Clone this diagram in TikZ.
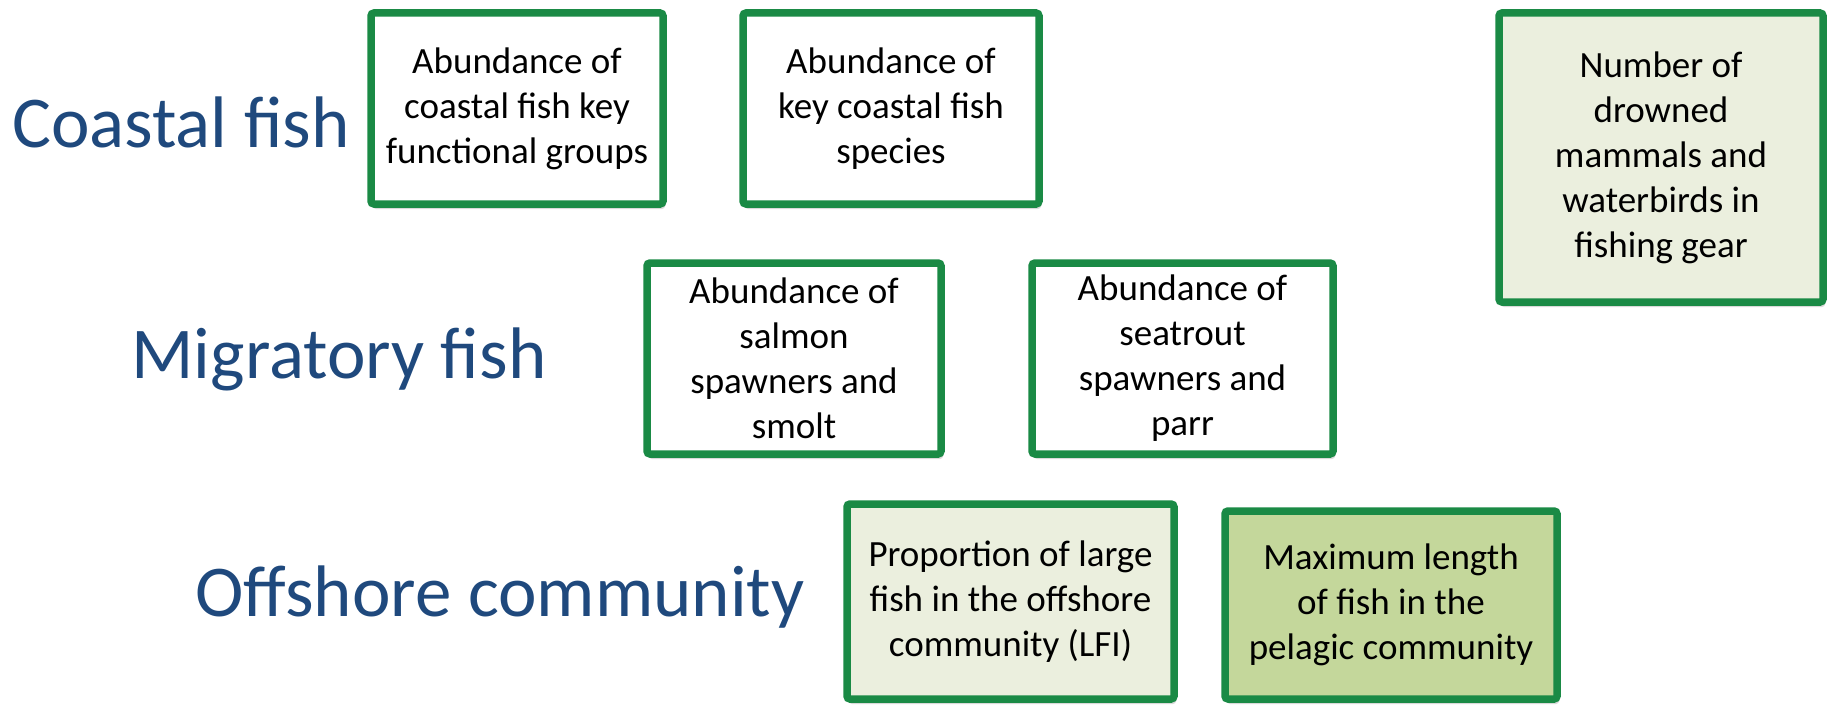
\documentclass[tikz,border=0pt]{standalone}
\usepackage{fontspec}
\setmainfont{Carlito}
\usepackage{xcolor}
\usepackage{tikz}
\usetikzlibrary{shadows}

\definecolor{framegreen}{RGB}{26,138,69}
\definecolor{palefill}{RGB}{235,239,222}
\definecolor{olivefill}{RGB}{196,215,155}
\definecolor{headblue}{RGB}{31,73,125}

\begin{document}
\begin{tikzpicture}[
x=1pt,y=-1pt,
box/.style={draw=framegreen,line width=7.5pt,rounded corners=3pt,fill=white,align=center,
  inner sep=0pt,font=\fontsize{37}{45}\selectfont,
  drop shadow={shadow xshift=2pt,shadow yshift=-5pt,fill=black!25,opacity=0.6}},
palebox/.style={box,fill=palefill},
olivebox/.style={box,fill=olivefill},
group/.style={text=headblue,font=\fontsize{73}{88}\selectfont,anchor=base,inner sep=0pt},
]
\useasboundingbox (0,0) rectangle (1831,706);
% group headings
\node[group] (coastal) at (181,147) {Coastal fish};
\node[group] (migratory) at (339,378) {Migratory fish};
\node[group] (offshore) at (500,616) {Offshore community};
% indicator boxes
\node[box,minimum width=292pt,minimum height=191pt] (functional) at (517,108.5) {Abundance of\\coastal fish key\\functional groups};
\node[box,minimum width=296pt,minimum height=191pt] (keyspecies) at (891,108.5) {Abundance of\\key coastal fish\\species};
\node[palebox,minimum width=324pt,minimum height=289pt] (bycatch) at (1661,157.5) {Number of\\drowned\\mammals and\\waterbirds in\\fishing gear};
\node[box,minimum width=294pt,minimum height=191pt] (salmon) at (794,358.5) {Abundance of\\salmon\\spawners and\\smolt};
\node[box,minimum width=301pt,minimum height=191pt] (seatrout) at (1182.5,358.5) {Abundance of\\seatrout\\spawners and\\parr};
\node[palebox,minimum width=327pt,minimum height=195pt] (lfi) at (1010.5,601.5) {Proportion of large\\fish in the offshore\\community (LFI)};
\node[olivebox,minimum width=332pt,minimum height=188pt] (maxlength) at (1391,605) {Maximum length\\of fish in the\\pelagic community};
\end{tikzpicture}
\end{document}
